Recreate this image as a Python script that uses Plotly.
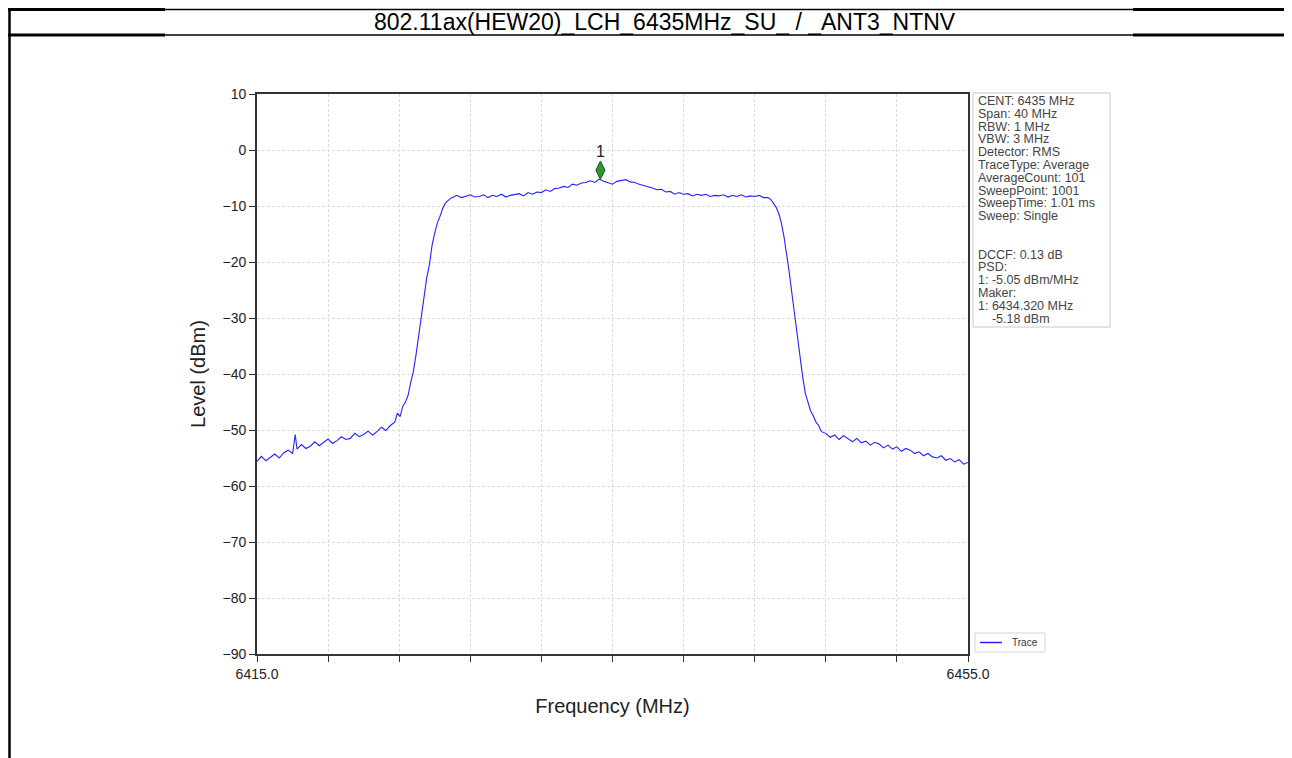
import plotly.graph_objects as go

# ---------------- data ----------------
title_text = "802.11ax(HEW20)_LCH_6435MHz_SU_ / _ANT3_NTNV"

freq_mhz = [
    6415.00, 6415.25, 6415.50, 6415.75, 6416.00, 6416.25, 6416.50, 6416.75,
    6417.00, 6417.15, 6417.25, 6417.50, 6417.75, 6418.00, 6418.25, 6418.50,
    6418.75, 6419.00, 6419.25, 6419.50, 6419.75, 6420.00, 6420.25, 6420.50,
    6420.75, 6421.00, 6421.25, 6421.50, 6421.75, 6422.00, 6422.25, 6422.50,
    6422.75,
    6422.90, 6423.05, 6423.20, 6423.35, 6423.50, 6423.65, 6423.80, 6423.95,
    6424.10, 6424.25, 6424.40, 6424.55, 6424.70, 6424.85, 6425.00, 6425.15,
    6425.30, 6425.45, 6425.60, 6425.75, 6425.90, 6426.05,
    6426.25, 6426.50, 6426.75, 6427.00, 6427.25, 6427.50, 6427.75, 6428.00,
    6428.25, 6428.50, 6428.75, 6429.00, 6429.25, 6429.50, 6429.75, 6430.00,
    6430.25, 6430.50, 6430.75, 6431.00, 6431.25, 6431.50, 6431.75, 6432.00,
    6432.25, 6432.50, 6432.75, 6433.00, 6433.25, 6433.50, 6433.75, 6434.00,
    6434.25, 6434.50, 6434.75, 6435.00, 6435.25, 6435.50, 6435.75, 6436.00,
    6436.25, 6436.50, 6436.75, 6437.00, 6437.25, 6437.50, 6437.75, 6438.00,
    6438.25, 6438.50, 6438.75, 6439.00, 6439.25, 6439.50, 6439.75, 6440.00,
    6440.25, 6440.50, 6440.75, 6441.00, 6441.25, 6441.50, 6441.75, 6442.00,
    6442.25, 6442.50, 6442.75, 6443.00, 6443.25, 6443.50, 6443.75,
    6443.90, 6444.05, 6444.20, 6444.35, 6444.50, 6444.65, 6444.80, 6444.95,
    6445.10, 6445.25, 6445.40, 6445.55, 6445.70, 6445.85, 6446.00, 6446.15,
    6446.30, 6446.45, 6446.60, 6446.75, 6447.00,
    6447.25, 6447.50, 6447.75, 6448.00, 6448.25, 6448.50, 6448.75, 6449.00,
    6449.25, 6449.50, 6449.75, 6450.00, 6450.25, 6450.50, 6450.75, 6451.00,
    6451.25, 6451.50, 6451.75, 6452.00, 6452.25, 6452.50, 6452.75, 6453.00,
    6453.25, 6453.50, 6453.75, 6454.00, 6454.25, 6454.50, 6454.75, 6455.00,
]

level_dbm = [
    -55.6, -54.7, -55.5, -54.9, -54.3, -55.0, -54.1, -53.6,
    -54.2, -50.8, -53.4, -52.6, -53.3, -52.9, -52.1, -52.8,
    -52.2, -51.6, -52.4, -51.9, -51.2, -51.7, -51.5, -50.6,
    -51.2, -50.8, -50.2, -50.9, -50.3, -49.5, -50.1, -49.2,
    -48.6,
    -47.0, -47.6, -45.8, -45.0, -43.8, -41.5, -39.5, -36.5,
    -33.0, -29.0, -25.5, -22.8, -20.5, -17.0, -14.8, -13.0,
    -11.8, -10.4, -9.5, -9.0, -8.6, -8.4,
    -8.1, -8.5, -8.2, -8.0, -8.4, -8.3, -8.0, -8.5,
    -8.1, -8.3, -7.9, -8.4, -8.1, -8.0, -7.8, -8.2,
    -7.6, -7.9, -7.5, -7.6, -7.1, -7.4, -6.9, -6.8,
    -6.5, -6.7, -6.1, -6.3, -5.9, -5.8, -5.5, -5.8,
    -5.2, -5.6, -5.9, -6.1, -5.6, -5.4, -5.3, -5.7,
    -5.8, -6.1, -6.3, -6.6, -6.8, -7.1, -7.0, -7.5,
    -7.4, -7.9, -7.6, -7.9, -7.8, -8.2, -7.9, -8.1,
    -7.9, -8.3, -8.1, -8.2, -8.0, -8.4, -8.1, -8.3,
    -8.0, -8.4, -8.2, -8.3, -8.1, -8.5, -8.5,
    -8.8, -9.4, -10.2, -11.3, -13.0, -15.5, -18.5, -22.0,
    -25.8, -29.5, -33.5, -37.5, -40.5, -43.5, -45.0, -46.6,
    -47.5, -48.6, -49.2, -50.3, -50.6,
    -51.3, -50.9, -51.7, -51.0, -51.6, -52.1, -51.5, -52.3,
    -52.0, -52.7, -52.2, -52.5, -53.2, -52.7, -53.4, -53.0,
    -53.8, -53.3, -53.6, -54.2, -53.9, -54.6, -54.2, -54.8,
    -55.0, -54.6, -55.4, -55.1, -55.7, -55.3, -56.1, -55.8,
]

marker_freq = [6434.32]
marker_shown_level = [-3.6]
marker_label = ["1"]

x_tick_vals = [6415, 6419, 6423, 6427, 6431, 6435, 6439, 6443, 6447, 6451, 6455]
x_tick_text = ["6415.0", "", "", "", "", "", "", "", "", "", "6455.0"]
y_tick_vals = [10, 0, -10, -20, -30, -40, -50, -60, -70, -80, -90]

legend_label = "Trace"

info_lines = [
    "CENT: 6435 MHz",
    "Span: 40 MHz",
    "RBW: 1 MHz",
    "VBW: 3 MHz",
    "Detector: RMS",
    "TraceType: Average",
    "AverageCount: 101",
    "SweepPoint: 1001",
    "SweepTime: 1.01 ms",
    "Sweep: Single",
    "",
    "",
    "DCCF: 0.13 dB",
    "PSD:",
    "1: -5.05 dBm/MHz",
    "Maker:",
    "1: 6434.320 MHz",
    "    -5.18 dBm",
]

# ---------------- layout geometry (pixels in the screenshot) ----------------
W, H = 1292, 758
OFF = 8  # page body margin
RPL, RPR, RPT, RPB = 257, 968, 94, 654  # plot area as seen in the screenshot
PL, PR, PT, PB = RPL - OFF, RPR - OFF, RPT - OFF, RPB - OFF
FONT = "Liberation Sans, Arial, sans-serif"
TRACE_COLOR = "#2323ff"


def px(xp):
    return (xp - RPL) / (RPR - RPL)


def py(yp):
    return (RPB - yp) / (RPB - RPT)


fig = go.Figure()
fig.add_trace(go.Scatter(
    x=freq_mhz, y=level_dbm, mode="lines", name=legend_label,
    line=dict(color=TRACE_COLOR, width=1.1), showlegend=False,
))
fig.add_trace(go.Scatter(
    x=marker_freq, y=marker_shown_level, mode="markers+text",
    text=marker_label, textposition="top center",
    textfont=dict(family=FONT, size=16, color="#222"),
    marker=dict(symbol="diamond-tall", size=13, color="#2e9a2e",
                line=dict(color="#1d4d1d", width=1)),
    showlegend=False, cliponaxis=False,
))

shapes = []
# info box
shapes.append(dict(type="rect", xref="paper", yref="paper",
                   x0=px(973), x1=px(1110), y0=py(327), y1=py(93),
                   line=dict(color="#c8c8c8", width=1), fillcolor="white", layer="below"))
# legend box
shapes.append(dict(type="rect", xref="paper", yref="paper",
                   x0=px(975), x1=px(1045), y0=py(652), y1=py(633),
                   line=dict(color="#d4d4d4", width=1), fillcolor="white", layer="below"))
shapes.append(dict(type="line", xref="paper", yref="paper",
                   x0=px(980), x1=px(1002), y0=py(642.5), y1=py(642.5),
                   line=dict(color=TRACE_COLOR, width=1.5)))
# page frame lines (the topmost ones sit just inside the drawable page area)
for yy in (9.5, 35):
    shapes.append(dict(type="line", xref="paper", yref="paper",
                       x0=px(8), x1=px(165), y0=py(yy), y1=py(yy),
                       line=dict(color="black", width=3)))
    shapes.append(dict(type="line", xref="paper", yref="paper",
                       x0=px(165), x1=px(1133), y0=py(yy), y1=py(yy),
                       line=dict(color="black", width=1.5)))
    shapes.append(dict(type="line", xref="paper", yref="paper",
                       x0=px(1133), x1=px(1300), y0=py(yy), y1=py(yy),
                       line=dict(color="black", width=3)))
shapes.append(dict(type="line", xref="paper", yref="paper",
                   x0=px(9.5), x1=px(9.5), y0=py(8), y1=py(770),
                   line=dict(color="black", width=2.5)))

annotations = []
annotations.append(dict(xref="paper", yref="paper", x=px(665), y=py(22),
                        text=title_text, showarrow=False,
                        font=dict(family=FONT, size=23, color="black"),
                        xanchor="center", yanchor="middle"))
annotations.append(dict(xref="paper", yref="paper", x=px(1010), y=py(642.5),
                        text=legend_label, showarrow=False, xanchor="left", yanchor="middle",
                        font=dict(family=FONT, size=10, color="#333")))
line_step = 12.8
for i, t in enumerate(info_lines):
    if not t:
        continue
    annotations.append(dict(xref="paper", yref="paper", x=px(975.5), y=py(101 + i * line_step),
                            text=t.replace(" ", "&nbsp;") if t.startswith(" ") else t,
                            showarrow=False, xanchor="left", yanchor="middle",
                            font=dict(family=FONT, size=12.5, color="#444")))

fig.update_layout(
    width=W, height=H,
    margin=dict(l=PL, r=W - PR, t=PT, b=H - PB, pad=0),
    paper_bgcolor="white", plot_bgcolor="white",
    font=dict(family=FONT, color="#222"),
    showlegend=False,
    shapes=shapes,
    annotations=annotations,
)
fig.update_xaxes(
    range=[6415, 6455], tickmode="array", tickvals=x_tick_vals, ticktext=x_tick_text,
    ticks="outside", ticklen=6, tickcolor="#333", tickwidth=1.2,
    showline=True, linecolor="#333", linewidth=1.8, mirror=True,
    showgrid=True, gridcolor="#dcdcdc", griddash="3px,2px", gridwidth=1,
    zeroline=False, tickfont=dict(family=FONT, size=14, color="#222"),
    title=dict(text="Frequency (MHz)", font=dict(family=FONT, size=20, color="#222"), standoff=18),
)
fig.update_yaxes(
    range=[-90, 10], tickmode="array", tickvals=y_tick_vals,
    ticks="outside", ticklen=6, tickcolor="#333", tickwidth=1.2,
    showline=True, linecolor="#333", linewidth=1.8, mirror=True,
    showgrid=True, gridcolor="#dcdcdc", griddash="3px,2px", gridwidth=1,
    zeroline=False, tickfont=dict(family=FONT, size=14, color="#222"),
    title=dict(text="Level (dBm)", font=dict(family=FONT, size=20, color="#222"), standoff=12),
)

fig.write_html("out.html")
